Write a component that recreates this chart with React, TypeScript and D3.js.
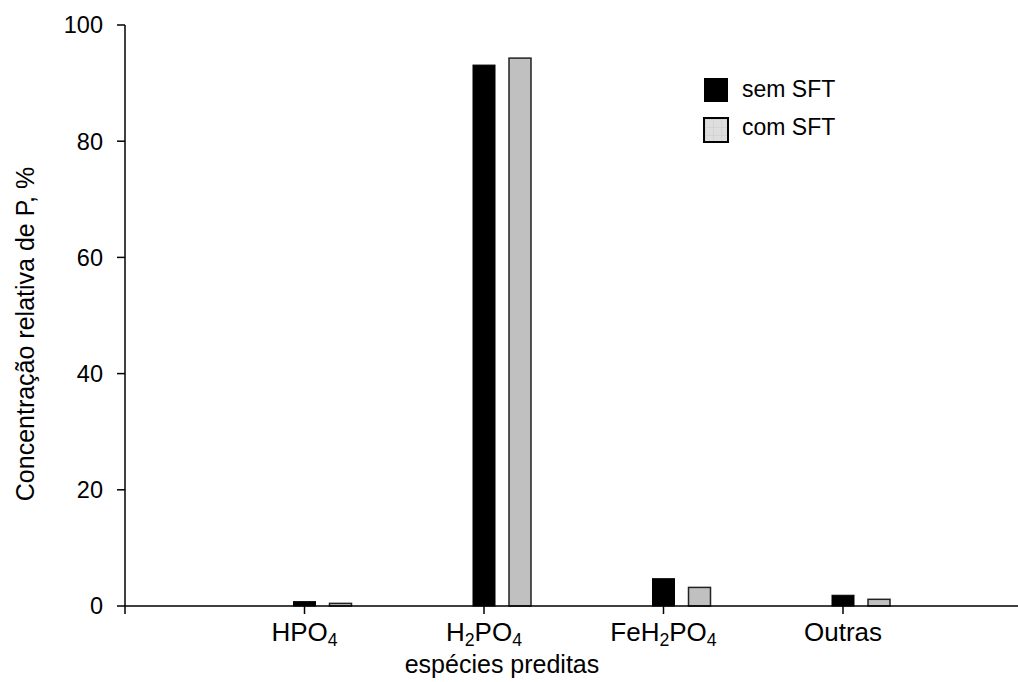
import React from 'react';
import * as d3 from 'd3';

// species (digits get drawn as subscripts)
const categories = ['HPO4', 'H2PO4', 'FeH2PO4', 'Outras'];
const semSFT = [0.75, 93.1, 4.7, 1.85];
const comSFT = [0.45, 94.3, 3.2, 1.15];
const yTicks = [0, 20, 40, 60, 80, 100];
const seriesNames = ['sem SFT', 'com SFT'];

const W = 1018;
const H = 682;
const FONT = 'Liberation Sans, Arial, Helvetica, sans-serif';

function Chem({ text, size }: { text: string; size: number }) {
  // split "FeH2PO4" into normal / subscript runs
  const parts = text.match(/\d+|\D+/g) || [];
  return (
    <>
      {parts.map((p, i) => {
        const sub = /^\d+$/.test(p);
        const prevSub = i > 0 && /^\d+$/.test(parts[i - 1]);
        let dy = 0;
        if (sub) dy = size * 0.18;
        else if (prevSub) dy = -size * 0.18;
        return (
          <tspan key={i} dy={dy} fontSize={sub ? size * 0.68 : size}>
            {p}
          </tspan>
        );
      })}
    </>
  );
}

export default function App() {
  const y = d3.scaleLinear().domain([0, 100]).range([606, 25]);
  // categories sit at 1..4 on the x axis, axis starts at 0
  const x = d3.scaleLinear().domain([0, 5]).range([125, 1022.5]);
  const barW = 22;
  const offset = 36;

  return (
    <div style={{ position: 'absolute', left: 0, top: 0 }}>
      <svg width={W} height={H} style={{ display: 'block', background: '#fff' }} fontFamily={FONT}>
        <defs>
          <pattern id="grid" width="8" height="8" patternUnits="userSpaceOnUse" x="705" y="119">
            <rect width="8" height="8" fill="#dedede" />
            <path d="M0 0H8M0 0V8" stroke="#cacaca" strokeWidth="1" />
          </pattern>
        </defs>

        {/* bars */}
        {categories.map((c, i) => {
          const cx = x(i + 1);
          return (
            <g key={c}>
              <rect
                x={cx - barW / 2}
                y={y(semSFT[i])}
                width={barW}
                height={y(0) - y(semSFT[i])}
                fill="#000"
                stroke="#000"
                strokeWidth={1}
              />
              <rect
                x={cx + offset - barW / 2}
                y={y(comSFT[i])}
                width={barW}
                height={y(0) - y(comSFT[i])}
                fill="#c0c0c0"
                stroke="#222"
                strokeWidth={1.5}
              />
            </g>
          );
        })}

        {/* y axis */}
        <line x1={x(0)} x2={x(0)} y1={y(100)} y2={y(0) + 8} stroke="#000" strokeWidth={1.5} />
        {yTicks.map((t) => (
          <g key={t}>
            <line x1={x(0) - 8} x2={x(0)} y1={y(t)} y2={y(t)} stroke="#000" strokeWidth={1.5} />
            <text x={x(0) - 22} y={y(t)} dy="0.36em" textAnchor="end" fontSize={23.5}>
              {t}
            </text>
          </g>
        ))}

        {/* x axis */}
        <line x1={x(0)} x2={W} y1={y(0)} y2={y(0)} stroke="#000" strokeWidth={1.5} />
        {categories.map((c, i) => (
          <g key={c}>
            <line x1={x(i + 1)} x2={x(i + 1)} y1={y(0)} y2={y(0) + 8} stroke="#000" strokeWidth={1.5} />
            <text x={x(i + 1)} y={641} textAnchor="middle" fontSize={26}>
              <Chem text={c} size={26} />
            </text>
          </g>
        ))}

        {/* axis titles */}
        <text x={502} y={673} textAnchor="middle" fontSize={25}>
          espécies preditas
        </text>
        <text
          transform="translate(34,334) rotate(-90)"
          textAnchor="middle"
          fontSize={25}
        >
          Concentração relativa de P, %
        </text>

        {/* legend */}
        <rect x={704} y={78} width={24} height={24} fill="#000" />
        <text x={742} y={97} fontSize={23}>
          {seriesNames[0]}
        </text>
        <rect x={704} y={118} width={24} height={24} fill="url(#grid)" stroke="#000" strokeWidth={2} />
        <text x={742} y={135} fontSize={23}>
          {seriesNames[1]}
        </text>
      </svg>
    </div>
  );
}
